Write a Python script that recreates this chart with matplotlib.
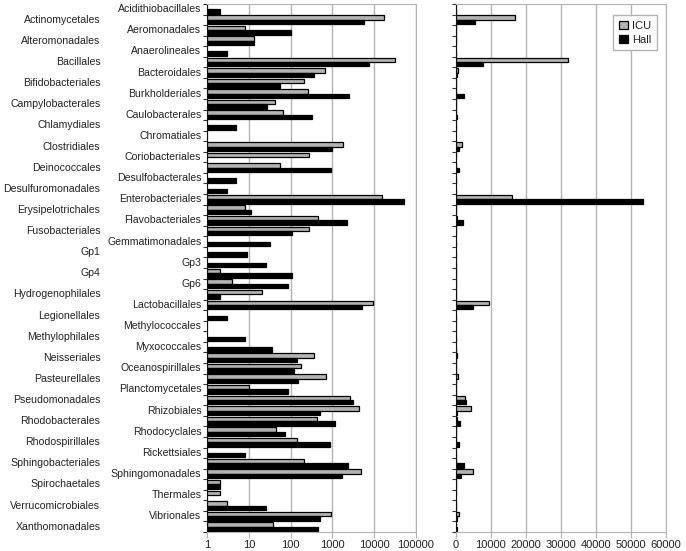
#!/usr/bin/env python3
import numpy as np
import matplotlib
matplotlib.use('Agg')
import matplotlib.pyplot as plt
from matplotlib.patches import Patch

plt.rcParams['font.family'] = ['Liberation Sans', 'DejaVu Sans']
plt.rcParams['font.size'] = 8

# orders, top to bottom
orders = ['Acidithiobacillales', 'Actinomycetales', 'Aeromonadales', 'Alteromonadales',
          'Anaerolineales', 'Bacillales', 'Bacteroidales', 'Bifidobacteriales',
          'Burkholderiales', 'Campylobacterales', 'Caulobacterales', 'Chlamydiales',
          'Chromatiales', 'Clostridiales', 'Coriobacteriales', 'Deinococcales',
          'Desulfobacterales', 'Desulfuromonadales', 'Enterobacteriales', 'Erysipelotrichales',
          'Flavobacteriales', 'Fusobacteriales', 'Gemmatimonadales', 'Gp1', 'Gp3', 'Gp4', 'Gp6',
          'Hydrogenophilales', 'Lactobacillales', 'Legionellales', 'Methylococcales',
          'Methylophilales', 'Myxococcales', 'Neisseriales', 'Oceanospirillales',
          'Pasteurellales', 'Planctomycetales', 'Pseudomonadales', 'Rhizobiales',
          'Rhodobacterales', 'Rhodocyclales', 'Rhodospirillales', 'Rickettsiales',
          'Sphingobacteriales', 'Sphingomonadales', 'Spirochaetales', 'Thermales',
          'Verrucomicrobiales', 'Vibrionales', 'Xanthomonadales']

# read counts (0 = no bar)
icu = np.array([0, 17000, 8, 13, 0, 32000, 670, 210, 265, 41, 64, 0, 0, 1770, 280, 56,
                0, 0, 16000, 8, 460, 280, 0, 0, 0, 2, 4, 21, 9500, 0, 0, 0, 0, 370, 175,
                700, 10, 2650, 4350, 440, 45, 140, 0, 213, 4900, 2, 2, 3, 915, 38])
hall = np.array([2, 5700, 100, 13, 3, 7700, 360, 57, 2550, 27, 330, 5, 0, 1000, 0, 930,
                 5, 3, 53500, 11, 2200, 106, 32, 9, 25, 106, 88, 2, 5100, 3, 0, 8, 35, 140,
                 123, 153, 88, 3100, 510, 1160, 73, 880, 8, 2430, 1680, 2, 0, 25, 510, 460])

log_ticks = [1, 10, 100, 1000, 10000, 100000]
lin_ticks = [0, 10000, 20000, 30000, 40000, 50000, 60000]

grid_c = '#b3b3b3'
icu_c = '#b3b3b3'
txt_c = '#222222'

y = np.arange(len(orders))
h = 0.42
off = 0.21

fig = plt.figure(figsize=(6.86, 5.51), dpi=100)
ax1 = fig.add_axes([0.3022, 0.0345, 0.3037, 0.9583])
ax2 = fig.add_axes([0.664, 0.0345, 0.3068, 0.9583])

def style(ax):
    ax.set_ylim(len(orders) - 0.5, -0.5)
    ax.set_axisbelow(True)
    ax.grid(axis='x', color=grid_c, lw=1)
    for s in ['top', 'right', 'bottom']:
        ax.spines[s].set_color(grid_c)
    ax.spines['left'].set_color('#111111')
    ax.set_yticks(np.arange(len(orders) + 1) - 0.5)
    ax.set_yticklabels([])
    ax.tick_params(axis='y', length=3, width=0.8, color='#333333')
    ax.tick_params(axis='x', length=4, color=grid_c, labelcolor=txt_c, labelsize=8, pad=2)

# left: log scale
m = icu > 0
ax1.barh(y[m] - off, icu[m] - 1, left=1, height=h, color=icu_c, edgecolor='black', lw=0.9)
m = hall > 0
ax1.barh(y[m] + off, hall[m] - 1, left=1, height=h, color='black', edgecolor='black', lw=0.9)
ax1.set_xscale('log')
ax1.set_xlim(1, 100000)
ax1.set_xticks(log_ticks)
ax1.set_xticklabels([str(t) for t in log_ticks])
ax1.minorticks_off()
style(ax1)

for i, name in enumerate(orders):
    dx = -6 if i % 2 == 0 else -107
    ax1.annotate(name, xy=(0, i), xycoords=('axes fraction', 'data'),
                 xytext=(dx, 0), textcoords='offset pixels',
                 ha='right', va='center', fontsize=7.6, color=txt_c)

# right: linear scale
m = icu > 0
ax2.barh(y[m] - off, icu[m], height=h, color=icu_c, edgecolor='black', lw=0.9, label='ICU')
m = hall > 0
ax2.barh(y[m] + off, hall[m], height=h, color='black', edgecolor='black', lw=0.9, label='Hall')
ax2.set_xlim(0, 60000)
ax2.set_xticks(lin_ticks)
ax2.set_xticklabels([str(t) for t in lin_ticks])
style(ax2)

handles = [Patch(facecolor=icu_c, edgecolor='black', lw=0.9, label='ICU'),
           Patch(facecolor='black', edgecolor='black', lw=0.9, label='Hall')]
leg = ax2.legend(handles=handles, loc='upper right', bbox_to_anchor=(0.957, 0.979),
                 fancybox=False, edgecolor=grid_c, framealpha=1, fontsize=8,
                 handlelength=0.8, handleheight=0.8, handletextpad=0.4,
                 borderpad=0.5, labelspacing=0.35, borderaxespad=0)
for t in leg.get_texts():
    t.set_color(txt_c)

fig.savefig('out.png', dpi=100)
